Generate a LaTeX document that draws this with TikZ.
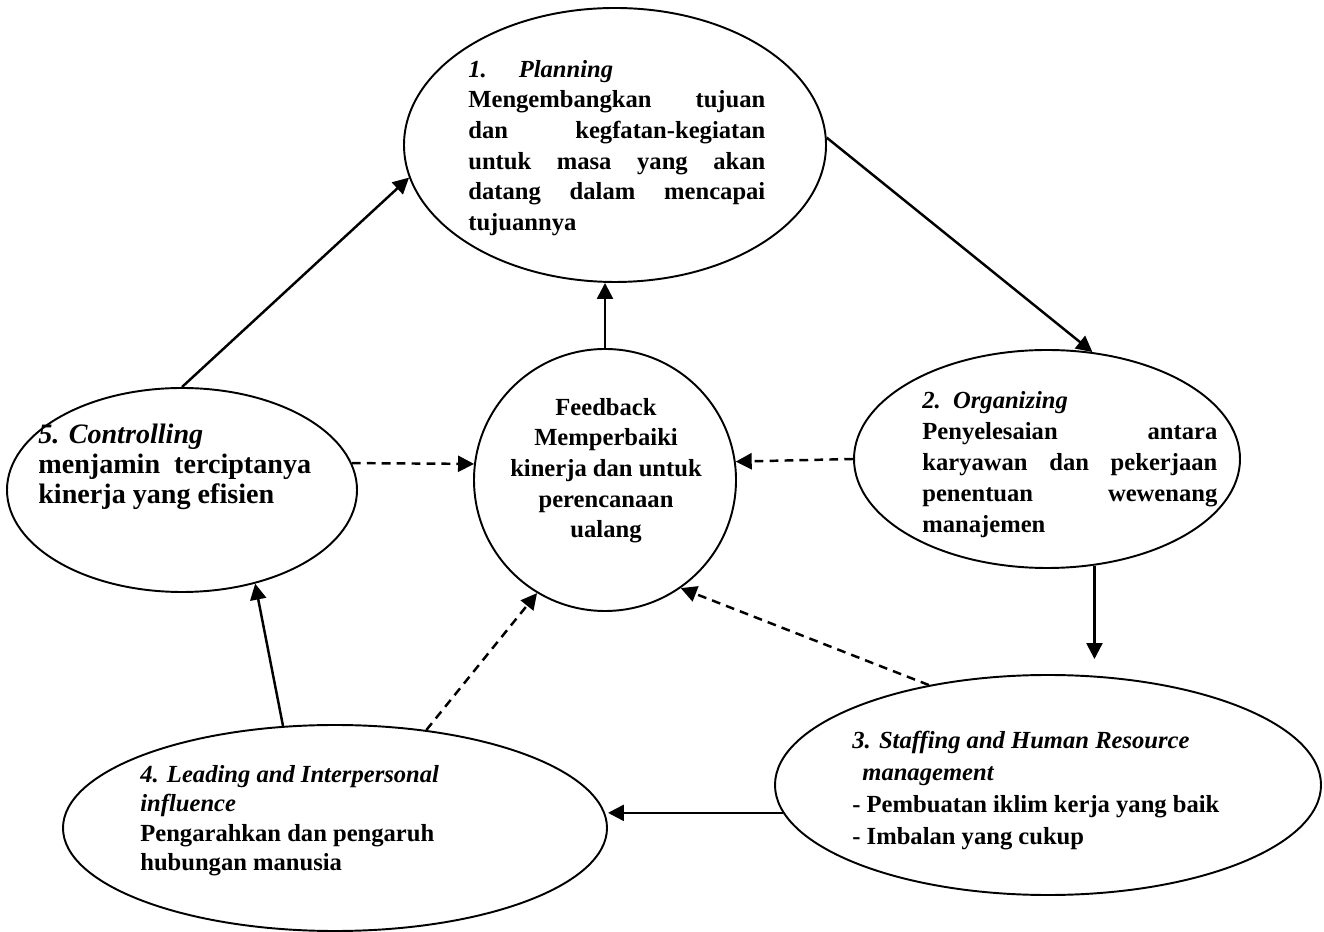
\documentclass[tikz,border=0pt]{standalone}
\usepackage{fontspec}
\setmainfont{Liberation Serif}
\newfontface\bitfont{Liberation Serif Bold Italic}
\newcommand{\headit}[1]{{\bitfont #1}}
\usepackage{tikz}
\usetikzlibrary{arrows.meta,shapes.geometric}

\begin{document}
\begin{tikzpicture}[
    oval/.style={draw, ellipse, line width=1.1pt, inner sep=0pt},
    txt/.style={font=\fontsize{14}{17.4}\selectfont\bfseries, inner sep=0pt, anchor=north west, align=left},
    arr/.style={-{Triangle[length=3.2mm, width=3.2mm]}, line width=1.4pt},
    darr/.style={arr, dash pattern=on 5pt off 3.5pt}
]
\useasboundingbox (0,0) rectangle (26.48,18.62);

% Planning
\node[oval, minimum width=8.44cm, minimum height=5.48cm] (plan) at (12.3,15.72) {};
\node[txt, text width=5.94cm] (plantxt) at (9.36,17.42)
    {\headit{1.\hspace{1.3em}Planning}\\
     Mengembangkan\hfill tujuan\\
     dan\hfill kegfatan-kegiatan\\
     untuk\hfill masa\hfill yang\hfill akan\\
     datang\hfill dalam\hfill mencapai\\
     tujuannya};

% Feedback
\node[draw, circle, line width=1.1pt, minimum size=5.24cm] (fb) at (12.1,9.02) {};
\node[txt, anchor=north, align=center] (fbtxt) at (12.12,10.66)
    {Feedback\\ Memperbaiki\\ kinerja dan untuk\\ perencanaan\\ ualang};

% Organizing
\node[oval, minimum width=7.72cm, minimum height=4.36cm] (org) at (20.94,9.44) {};
\node[txt, text width=5.9cm, font=\fontsize{14}{17.6}\selectfont\bfseries] (orgtxt) at (18.44,10.8)
    {\headit{2. Organizing}\\
     Penyelesaian\hfill antara\\
     karyawan\hfill dan\hfill pekerjaan\\
     penentuan\hfill wewenang\\
     manajemen};

% Staffing
\node[oval, minimum width=10.92cm, minimum height=4.4cm] (staff) at (20.96,2.92) {};
\node[txt, font=\fontsize{14}{18.2}\selectfont\bfseries] (stafftxt) at (17.04,4.0)
    {\headit{3. Staffing and Human Resource}\\
     \hspace*{2mm}\headit{management}\\
     - Pembuatan iklim kerja yang baik\\
     - Imbalan yang cukup};

% Leading
\node[oval, minimum width=10.88cm, minimum height=4.12cm] (lead) at (6.7,2.06) {};
\node[txt, font=\fontsize{14}{16.8}\selectfont\bfseries] (leadtxt) at (2.8,3.32)
    {\headit{4. Leading and Interpersonal}\\
     \headit{influence}\\
     Pengarahkan dan pengaruh\\
     hubungan manusia};

% Controlling
\node[oval, minimum width=7.0cm, minimum height=4.08cm] (ctrl) at (3.64,8.82) {};
\node[txt, font=\fontsize{16}{17.1}\selectfont\bfseries] (ctrltxt) at (0.76,10.14)
    {\headit{5. Controlling}\\
     menjamin\ \ terciptanya\\
     kinerja yang efisien};

% cycle
\draw[arr] (ctrl.north) -- (plan.189);
\draw[arr] (fb.north) -- (fb.north |- plan.south);
\draw[arr] (plan.2) -- (org.67);
\draw[arr, shorten >=0.3cm] (org.-66) -- (org.-66 |- staff.north);
\draw[arr] (staff.186) -- (staff.186 -| lead.east);
\draw[arr] (lead.117) -- (ctrl.-52);

% feedback
\draw[darr] (ctrl.9) -- (fb.173);
\draw[darr] (org.west) -- (fb.8);
\draw[darr] (staff.140) -- (fb.-55);
\draw[darr] (lead.47) -- (fb.239);
\end{tikzpicture}
\end{document}
